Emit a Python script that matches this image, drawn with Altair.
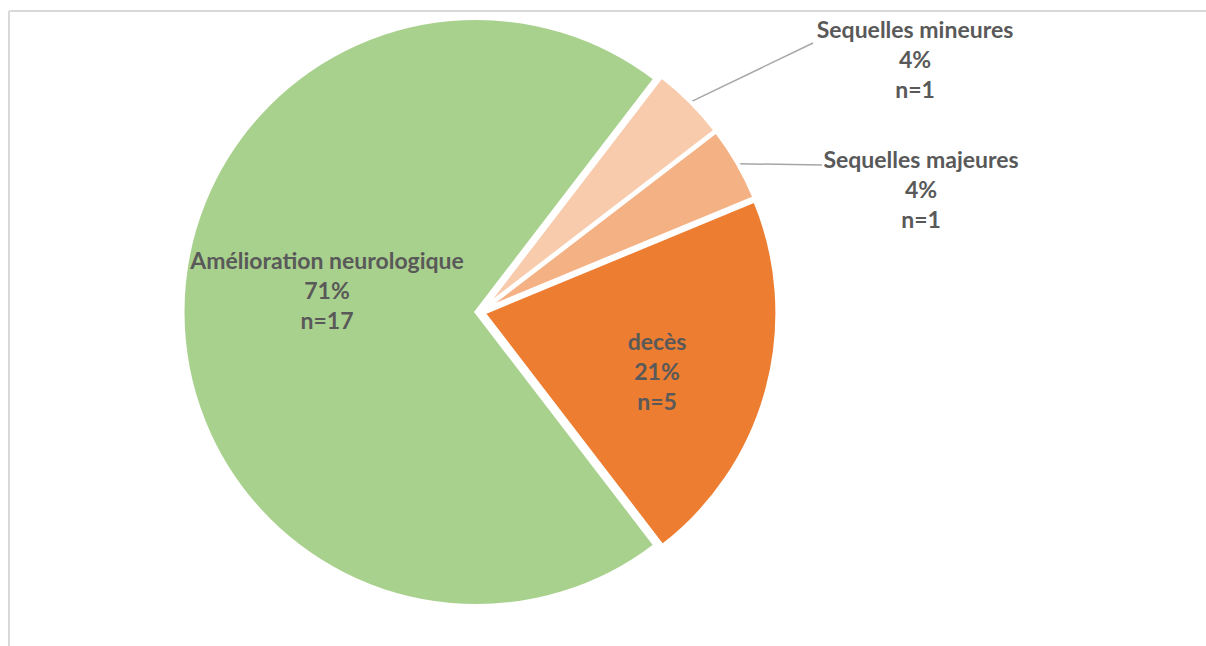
import math
import altair as alt
import pandas as pd

# --- data -----------------------------------------------------------------
categories = ["Amélioration neurologique", "Sequelles mineures", "Sequelles majeures", "decès"]
counts = [17, 1, 1, 5]
colors = ["#A9D18E", "#F8CBAD", "#F4B183", "#ED7D31"]

# --- pie geometry (pixels) ------------------------------------------------
W, H = 1206, 646
CX, CY, R = 480, 312, 294
EXPLODE = 3.5
BORDER = 4  # white outline drawn round every slice
START = math.radians(142.5)  # angle of the first slice, clockwise from 12 o'clock

# label placement: offset of the first text line from the pie centre
label_offset = {
    "Amélioration neurologique": (-153, -50),
    "Sequelles mineures": (435, -281),
    "Sequelles majeures": (441, -151),
    "decès": (177, 31),
}
# elbow of the leader line for labels placed outside the pie
leader_end = {
    "Sequelles mineures": (333, -269),
    "Sequelles majeures": (342, -147),
}

total = sum(counts)
df = pd.DataFrame({
    "cat": categories,
    "count": counts,
    "order": list(range(len(categories))),
})
df["label"] = [f"{c}\n{round(100 * n / total)}%\nn={n}" for c, n in zip(categories, counts)]
df["lx"] = [CX + label_offset[c][0] for c in categories]
df["ly"] = [CY + label_offset[c][1] for c in categories]
df["outside"] = [c in leader_end for c in categories]
df["ex"] = [CX + leader_end[c][0] if c in leader_end else 0 for c in categories]
df["ey"] = [CY + leader_end[c][1] if c in leader_end else 0 for c in categories]

base = (
    alt.Chart(df)
    .transform_joinaggregate(total="sum(count)")
    .transform_window(cum="sum(count)", sort=[alt.SortField("order")], frame=[None, 0])
    .transform_calculate(
        a0=f"{START} + 2*PI*(datum.cum - datum.count)/datum.total",
        a1=f"{START} + 2*PI*datum.cum/datum.total",
    )
    .transform_calculate(mid="(datum.a0 + datum.a1)/2")
    .transform_calculate(
        cx=f"{CX} + {EXPLODE}*sin(datum.mid)",
        cy=f"{CY} - {EXPLODE}*cos(datum.mid)",
        sx=f"{CX} + {R + EXPLODE - 1}*sin(datum.mid)",
        sy=f"{CY} - {R + EXPLODE - 1}*cos(datum.mid)",
    )
)

px = dict(scale=None, axis=None)

slices = base.mark_arc(radius=R, stroke="white", strokeWidth=BORDER).encode(
    x=alt.X("cx:Q", **px),
    y=alt.Y("cy:Q", **px),
    theta=alt.Theta("a0:Q", scale=None),
    theta2="a1:Q",
    color=alt.Color("cat:N", scale=alt.Scale(domain=categories, range=colors), legend=None),
)

leaders = base.transform_filter("datum.outside").mark_rule(
    color="#A6A6A6", strokeWidth=1.5
).encode(
    x=alt.X("sx:Q", **px),
    y=alt.Y("sy:Q", **px),
    x2="ex:Q",
    y2="ey:Q",
)

labels = base.mark_text(
    font="Lato",
    fontSize=23,
    fontWeight="bold",
    color="#595959",
    lineBreak="\n",
    lineHeight=30,
    align="center",
    baseline="middle",
).encode(
    x=alt.X("lx:Q", **px),
    y=alt.Y("ly:Q", **px),
    text="label:N",
)

one = pd.DataFrame({"k": [0]})
frame_top = alt.Chart(one).mark_rule(color="#D9D9D9", strokeWidth=2).encode(
    x=alt.value(9), x2=alt.value(W), y=alt.value(11)
)
frame_left = alt.Chart(one).mark_rule(color="#D9D9D9", strokeWidth=2).encode(
    x=alt.value(9), y=alt.value(11), y2=alt.value(H)
)

chart = (
    alt.layer(frame_top, frame_left, leaders, slices, labels)
    .properties(width=W, height=H, padding=0, autosize="none", background="white")
    .configure_view(stroke=None)
)

chart.save("out.html", embed_options={"renderer": "svg", "actions": False})
